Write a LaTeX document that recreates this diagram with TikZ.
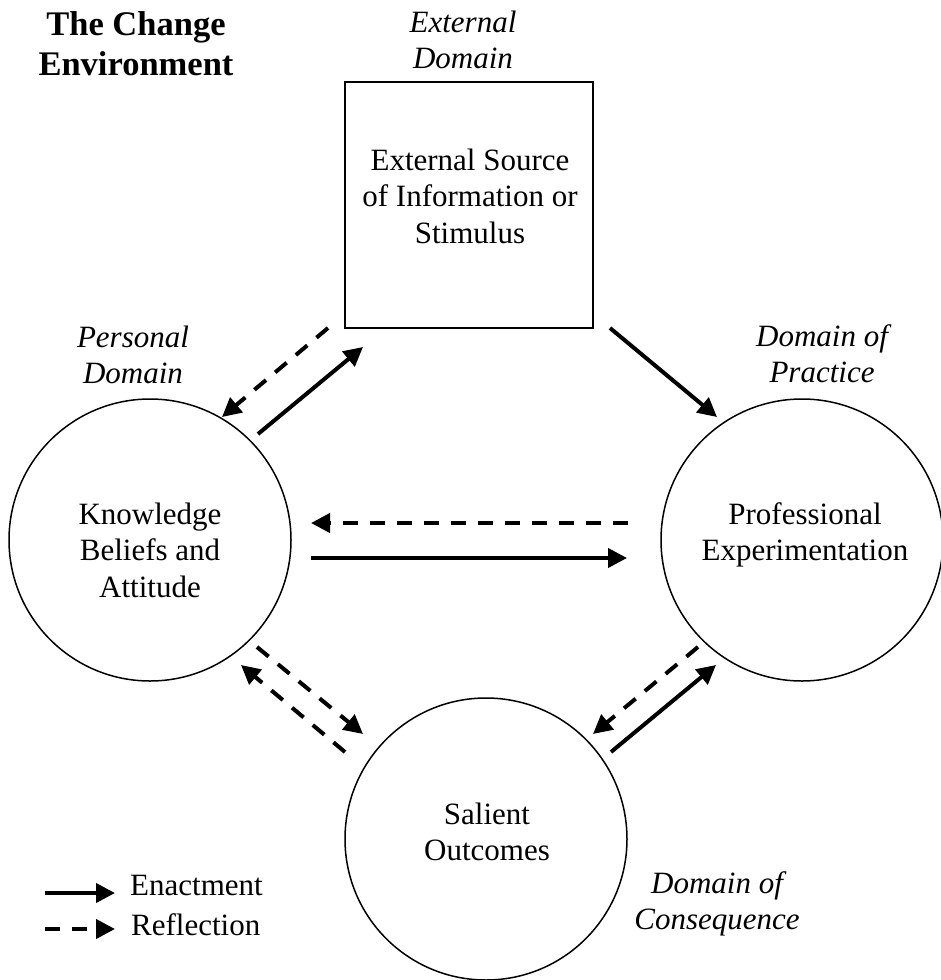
\documentclass[tikz,border=0pt]{standalone}
\usepackage{fontspec}
\setmainfont{Liberation Serif}
\usetikzlibrary{arrows.meta}
\begin{document}
\begin{tikzpicture}[x=1pt,y=-1pt,
  txt/.style={align=center, inner sep=0pt, font=\fontsize{31}{36.5}\selectfont},
  dom/.style={align=center, inner sep=0pt, font=\fontsize{31}{36}\selectfont\itshape},
  ttl/.style={align=center, inner sep=0pt, font=\fontsize{34.5}{40}\selectfont\bfseries},
  ring/.style={draw, circle, line width=1.5pt, minimum size=282pt, inner sep=0pt},
  boxnode/.style={draw, rectangle, line width=1.5pt, minimum width=248pt, minimum height=246pt, inner sep=0pt},
  enact/.style={line width=4pt, -{Triangle[length=19pt,width=19pt]}},
  reflect/.style={enact, dash pattern=on 15pt off 12pt},
  legtxt/.style={inner sep=0pt, anchor=base west, font=\fontsize{31}{36}\selectfont},
]
\useasboundingbox[fill=white] (0,0) rectangle (940,980);

% main nodes
\node[boxnode] (src) at (469,205) {};
\node[txt] (srct) at (470,196) {External Source\\of Information or\\Stimulus};
\node[ring] (kba) at (150,540) {};
\node[txt] (kbat) at (150,550) {Knowledge\\Beliefs and\\Attitude};
\node[ring] (pe) at (802,540) {};
\node[txt] (pet) at (805,535) {Professional\\Experimentation};
\node[ring] (so) at (486,839) {};
\node[txt] (sot) at (487,832) {Salient\\Outcomes};

% domain labels
\node[ttl] (title) at (136,44) {The Change\\Environment};
\node[dom] (ext) at (463,40) {External\\Domain};
\node[dom] (pers) at (133,355) {Personal\\Domain};
\node[dom] (prac) at (822,354) {Domain of\\Practice};
\node[dom] (cons) at (717,904) {Domain of\\Consequence};

% connector end points
\coordinate (a1s) at (328,328); \coordinate (a1e) at (222,417);
\coordinate (a2s) at (258,434); \coordinate (a2e) at (363,347);
\coordinate (a3s) at (610,328); \coordinate (a3e) at (717,417);
\coordinate (a4s) at (628,523); \coordinate (a4e) at (311,523);
\coordinate (a5s) at (311,558); \coordinate (a5e) at (627,558);
\coordinate (a6s) at (257,647); \coordinate (a6e) at (363,734);
\coordinate (a7s) at (345,752); \coordinate (a7e) at (241,665);
\coordinate (a8s) at (698,647); \coordinate (a8e) at (593,734);
\coordinate (a9s) at (611,752); \coordinate (a9e) at (716,665);

\draw[reflect] (a1s) -- (a1e);
\draw[enact]   (a2s) -- (a2e);
\draw[enact]   (a3s) -- (a3e);
\draw[reflect] (a4s) -- (a4e);
\draw[enact]   (a5s) -- (a5e);
\draw[reflect] (a6s) -- (a6e);
\draw[reflect] (a7s) -- (a7e);
\draw[reflect] (a8s) -- (a8e);
\draw[enact]   (a9s) -- (a9e);

% legend
\node[legtxt] (lgE) at (130,895) {Enactment};
\node[legtxt] (lgR) at (131,935) {Reflection};
\coordinate (l1s) at (45,893); \coordinate (l1e) at (115,893);
\coordinate (l2s) at (45,929); \coordinate (l2e) at (115,929);
\draw[enact] (l1s) -- (l1e);
\draw[reflect] (l2s) -- (l2e);
\end{tikzpicture}
\end{document}
